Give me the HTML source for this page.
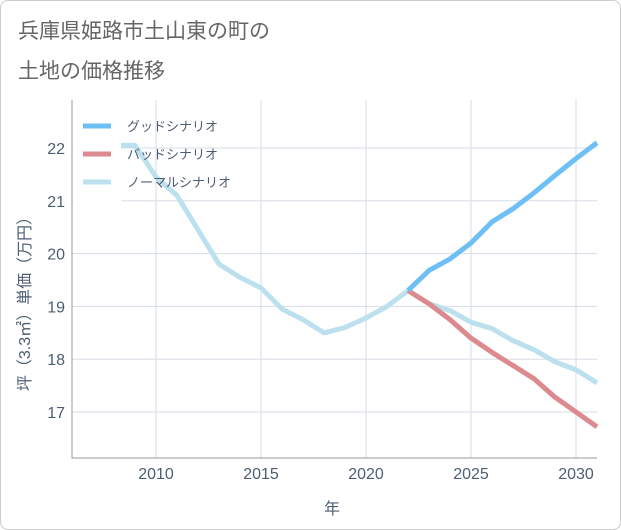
<!DOCTYPE html>
<html><head><meta charset="utf-8"><style>
body{margin:0;background:#fff;font-family:"Liberation Sans","Noto Sans CJK JP",sans-serif}
.card{position:absolute;left:0;top:0;width:619px;height:528px;border:1px solid #ccc;border-radius:8px;background:#fff}
</style></head><body>
<div class="card"></div>
<svg id="c" width="621" height="530" style="position:absolute;left:0;top:0" font-family="Liberation Sans, Noto Sans CJK JP, sans-serif">
<text x="18" y="38" font-size="21" fill="#666">兵庫県姫路市土山東の町の</text>
<text x="18" y="78" font-size="21" fill="#666">土地の価格推移</text>
<g id="grid"></g><g id="lines"></g><g id="leg"></g>
<text x="332" y="514" font-size="16" fill="#4d5d73" text-anchor="middle">年</text>
<text transform="translate(30,300) rotate(-90)" font-size="16" fill="#4d5d73" text-anchor="middle">坪（3.3㎡）単価（万円）</text>
</svg>
<script>
const years=[2008,2009,2010,2011,2012,2013,2014,2015,2016,2017,2018,2019,2020,2021,2022,2023,2024,2025,2026,2027,2028,2029,2030,2031];
const normal=[22.05,22.05,21.45,21.1,20.45,19.8,19.55,19.35,18.95,18.75,18.5,18.6,18.78,19.0,19.3,19.05,18.92,18.7,18.58,18.35,18.18,17.95,17.8,17.55];
const goodYears=[2022,2023,2024,2025,2026,2027,2028,2029,2030,2031];
const good=[19.3,19.68,19.9,20.2,20.6,20.85,21.15,21.48,21.8,22.1];
const bad=[19.3,19.05,18.75,18.4,18.13,17.88,17.63,17.28,17.0,16.72];
const xTicks=[2010,2015,2020,2025,2030];
const yTicks=[17,18,19,20,21,22];
const L=72,R=597,T=100,B=458;
const x=v=>156+(v-2010)*21;
const y=v=>148+(22-v)*52.8;
const ns="http://www.w3.org/2000/svg";
function mk(p,t,a){const e=document.createElementNS(ns,t);for(const k in a)e.setAttribute(k,a[k]);p.appendChild(e);return e;}
const g=document.getElementById('grid');
for(const t of xTicks){const l=mk(g,'line',{x1:x(t),x2:x(t),y1:T,y2:B,stroke:'#d5dde6'});


const tx=mk(g,'text',{x:x(t),y:479,'font-size':16,fill:'#4d5d73','text-anchor':'middle'});tx.textContent=t;

}
for(const t of yTicks){const l=mk(g,'line',{x1:L,x2:R,y1:y(t),y2:y(t),stroke:'#d5dde6'});


const tx=mk(g,'text',{x:65,y:y(t)+6,'font-size':16,fill:'#4d5d73','text-anchor':'end'});tx.textContent=t;

}
const ax=mk(g,'path',{d:`M${L},${T}V${B}H${R}`,fill:'none',stroke:'#999'});


const ln=document.getElementById('lines');
function series(xs,vs,col,name){const p=mk(ln,'polyline',{points:xs.map((v,i)=>x(v)+','+y(vs[i])).join(' '),fill:'none',stroke:col,'stroke-width':5,'stroke-linejoin':'round'});

}
series(years,normal,'#bde0ee','normal-scenario-line');
series(goodYears,bad,'#dc8a8f','bad-scenario-line');
series(goodYears,good,'#6ebff5','good-scenario-line');
const lg=document.getElementById('leg');
mk(lg,'rect',{x:73,y:101,width:48,height:101,fill:'#fff'});
const items=[['グッドシナリオ','#6ebff5','legend-good'],['バッドシナリオ','#dc8a8f','legend-bad'],['ノーマルシナリオ','#bde0ee','legend-normal']];
items.forEach((it,i)=>{const yy=126+i*28;
const l=mk(lg,'line',{x1:83,x2:111,y1:yy,y2:yy,stroke:it[1],'stroke-width':5});


const t=mk(lg,'text',{x:127,y:yy+5,'font-size':13,fill:'#4d5d73'});t.textContent=it[0];

});
</script>
</body></html>
